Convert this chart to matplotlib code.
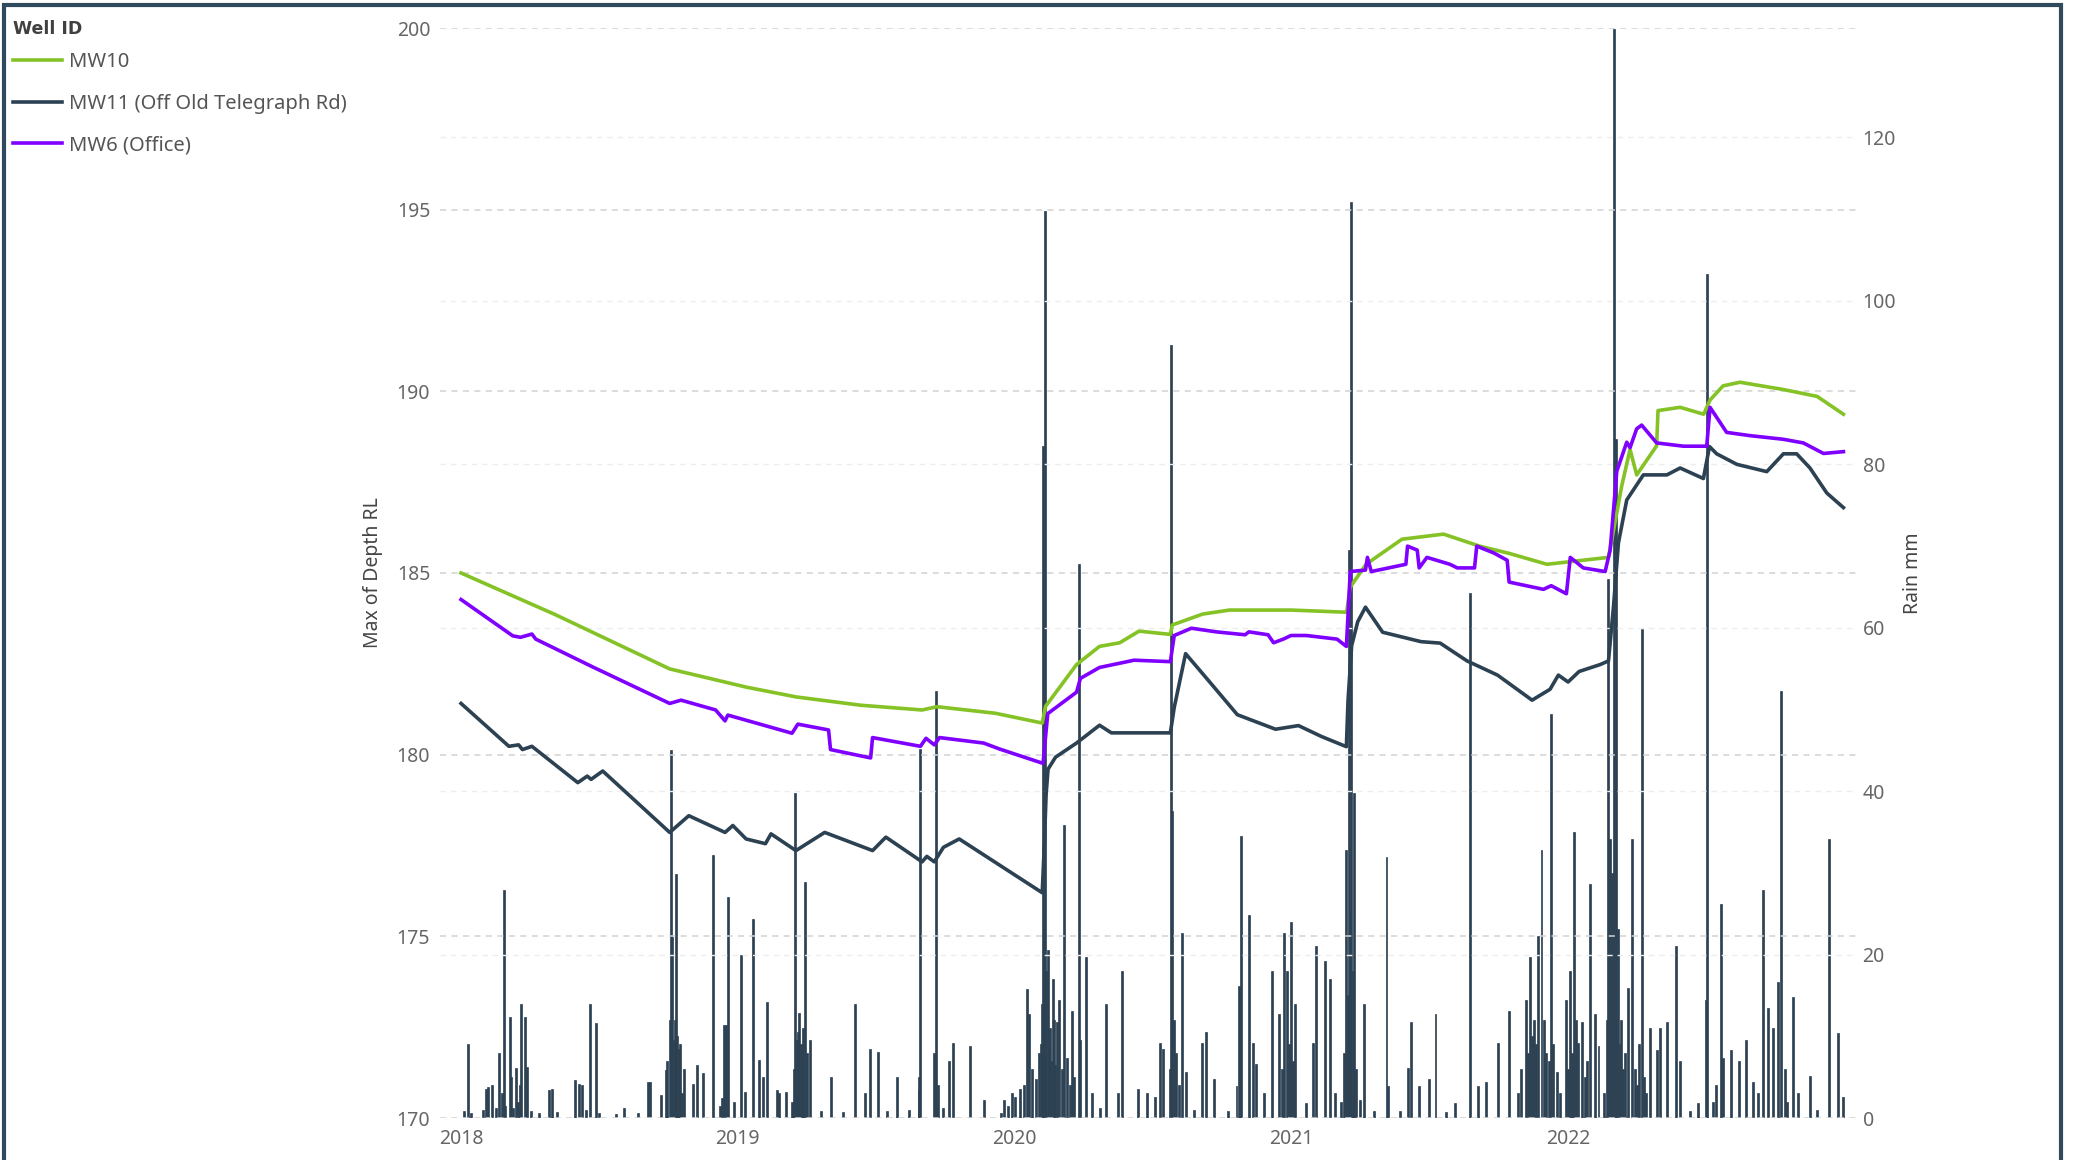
import matplotlib
matplotlib.use("Agg")
import matplotlib.pyplot as plt
from matplotlib.patches import Rectangle

plt.rcParams['font.family'] = ['Noto Sans', 'DejaVu Sans']

# groundwater level (m RL) per well, time in decimal years
mw10_t = [2018.000, 2018.339, 2018.754, 2019.030, 2019.210, 2019.445, 2019.666, 2019.720,
          2019.930, 2020.100, 2020.112, 2020.224, 2020.307, 2020.380, 2020.450, 2020.563,
          2020.570, 2020.680, 2020.777, 2020.998, 2021.200, 2021.212, 2021.270, 2021.400,
          2021.550, 2021.680, 2021.787, 2021.924, 2022.146, 2022.165, 2022.194, 2022.224,
          2022.248, 2022.320, 2022.325, 2022.405, 2022.490, 2022.513, 2022.560, 2022.621,
          2022.778, 2022.900, 2022.995]
mw10_rl = [185.00, 183.86, 182.36, 181.86, 181.59, 181.36, 181.23, 181.32,
           181.14, 180.87, 181.33, 182.48, 182.98, 183.08, 183.40, 183.31,
           183.57, 183.87, 183.98, 183.98, 183.92, 184.60, 185.24, 185.93,
           186.07, 185.74, 185.54, 185.24, 185.43, 186.20, 187.40, 188.40,
           187.70, 188.50, 189.47, 189.56, 189.37, 189.76, 190.15, 190.25,
           190.05, 189.86, 189.37]

mw11_t = [2018.000, 2018.173, 2018.208, 2018.222, 2018.256, 2018.422, 2018.456, 2018.470,
          2018.512, 2018.754, 2018.823, 2018.954, 2018.982, 2019.030, 2019.100, 2019.120,
          2019.210, 2019.314, 2019.487, 2019.535, 2019.666, 2019.683, 2019.710, 2019.743,
          2019.800, 2020.100, 2020.108, 2020.114, 2020.121, 2020.148, 2020.224, 2020.307,
          2020.350, 2020.563, 2020.577, 2020.618, 2020.694, 2020.805, 2020.943, 2021.026,
          2021.109, 2021.199, 2021.205, 2021.218, 2021.240, 2021.268, 2021.330, 2021.469,
          2021.538, 2021.635, 2021.745, 2021.870, 2021.935, 2021.965, 2022.000, 2022.040,
          2022.116, 2022.146, 2022.164, 2022.182, 2022.212, 2022.272, 2022.357, 2022.405,
          2022.489, 2022.511, 2022.537, 2022.610, 2022.718, 2022.778, 2022.826, 2022.874,
          2022.935, 2022.995]
mw11_rl = [181.41, 180.23, 180.27, 180.14, 180.23, 179.23, 179.41, 179.32,
           179.55, 177.86, 178.32, 177.86, 178.05, 177.68, 177.55, 177.82,
           177.36, 177.86, 177.36, 177.73, 177.05, 177.20, 177.05, 177.45,
           177.68, 176.20, 177.60, 178.90, 179.60, 179.93, 180.32, 180.81,
           180.60, 180.60, 181.30, 182.78, 182.10, 181.10, 180.70, 180.80,
           180.50, 180.22, 181.50, 183.00, 183.66, 184.06, 183.37, 183.11,
           183.07, 182.58, 182.19, 181.50, 181.80, 182.19, 182.00, 182.29,
           182.48, 182.58, 184.06, 185.83, 187.01, 187.70, 187.70, 187.89,
           187.60, 188.48, 188.28, 187.99, 187.79, 188.28, 188.28, 187.89,
           187.20, 186.80]

mw6_t = [2018.000, 2018.187, 2018.215, 2018.256, 2018.270, 2018.477, 2018.754, 2018.795,
         2018.920, 2018.954, 2018.964, 2019.196, 2019.217, 2019.328, 2019.335, 2019.480,
         2019.487, 2019.660, 2019.680, 2019.710, 2019.729, 2019.888, 2019.948, 2020.103,
         2020.120, 2020.224, 2020.238, 2020.307, 2020.432, 2020.563, 2020.577, 2020.639,
         2020.729, 2020.833, 2020.847, 2020.916, 2020.936, 2020.971, 2020.999, 2021.054,
         2021.165, 2021.199, 2021.213, 2021.268, 2021.275, 2021.289, 2021.414, 2021.420,
         2021.455, 2021.462, 2021.490, 2021.573, 2021.600, 2021.662, 2021.670, 2021.732,
         2021.780, 2021.787, 2021.911, 2021.939, 2021.994, 2022.008, 2022.055, 2022.134,
         2022.152, 2022.176, 2022.212, 2022.224, 2022.248, 2022.266, 2022.320, 2022.417,
         2022.501, 2022.513, 2022.573, 2022.658, 2022.778, 2022.850, 2022.923, 2022.995]
mw6_rl = [184.27, 183.27, 183.23, 183.32, 183.18, 182.41, 181.41, 181.50,
          181.23, 180.93, 181.09, 180.59, 180.84, 180.68, 180.14, 179.91,
          180.47, 180.23, 180.45, 180.27, 180.47, 180.32, 180.15, 179.76,
          181.13, 181.72, 182.10, 182.40, 182.60, 182.56, 183.28, 183.48,
          183.38, 183.30, 183.38, 183.30, 183.08, 183.18, 183.28, 183.28,
          183.18, 182.98, 185.04, 185.08, 185.43, 185.04, 185.24, 185.74,
          185.63, 185.14, 185.43, 185.24, 185.14, 185.14, 185.74, 185.55,
          185.35, 184.75, 184.55, 184.65, 184.43, 185.43, 185.14, 185.04,
          185.63, 187.80, 188.60, 188.45, 188.97, 189.07, 188.58, 188.49,
          188.49, 189.56, 188.87, 188.78, 188.68, 188.58, 188.29, 188.34]

# daily rainfall (mm)
rain_t = [2018.010, 2018.024, 2018.035, 2018.080, 2018.090, 2018.097, 2018.111, 2018.125,
          2018.138, 2018.154, 2018.160, 2018.176, 2018.188, 2018.197, 2018.205, 2018.217,
          2018.231, 2018.240, 2018.252, 2018.280, 2018.318, 2018.328, 2018.345, 2018.411,
          2018.425, 2018.438, 2018.450, 2018.466, 2018.488, 2018.500, 2018.560, 2018.588,
          2018.640, 2018.674, 2018.682, 2018.723, 2018.740, 2018.754, 2018.760, 2018.764,
          2018.768, 2018.773, 2018.778, 2018.782, 2018.788, 2018.792, 2018.800, 2018.837,
          2018.851, 2018.873, 2018.909, 2018.935, 2018.950, 2018.957, 2018.966, 2018.985,
          2019.012, 2019.026, 2019.055, 2019.076, 2019.090, 2019.106, 2019.141, 2019.148,
          2019.175, 2019.195, 2019.206, 2019.213, 2019.218, 2019.221, 2019.228, 2019.236,
          2019.242, 2019.250, 2019.261, 2019.300, 2019.337, 2019.380, 2019.424, 2019.459,
          2019.476, 2019.508, 2019.540, 2019.574, 2019.620, 2019.653, 2019.660, 2019.715,
          2019.740, 2019.763, 2019.777, 2019.839, 2019.891, 2019.950, 2019.962, 2019.975,
          2019.990, 2020.003, 2020.019, 2020.033, 2020.044, 2020.051, 2020.062, 2020.079,
          2020.090, 2020.103, 2020.111, 2020.121, 2020.128, 2020.139, 2020.147, 2020.155,
          2020.162, 2020.179, 2020.190, 2020.206, 2020.234, 2020.238, 2020.257, 2020.280,
          2020.310, 2020.332, 2020.374, 2020.390, 2020.445, 2020.480, 2020.508, 2020.525,
          2020.535, 2020.567, 2020.570, 2020.606, 2020.618, 2020.650, 2020.678, 2020.692,
          2020.720, 2020.770, 2020.802, 2020.812, 2020.819, 2020.847, 2020.861, 2020.874,
          2020.902, 2020.930, 2020.957, 2020.974, 2020.985, 2020.998, 2021.012, 2021.054,
          2021.079, 2021.090, 2021.120, 2021.139, 2021.157, 2021.180, 2021.199, 2021.209,
          2021.217, 2021.227, 2021.248, 2021.264, 2021.300, 2021.344, 2021.351, 2021.393,
          2021.421, 2021.434, 2021.462, 2021.496, 2021.521, 2021.560, 2021.593, 2021.646,
          2021.676, 2021.704, 2021.746, 2021.787, 2021.820, 2021.849, 2021.863, 2021.877,
          2021.890, 2021.904, 2021.920, 2021.939, 2021.959, 2021.970, 2021.991, 2022.008,
          2022.022, 2022.037, 2022.049, 2022.080, 2022.098, 2022.110, 2022.130, 2022.146,
          2022.152, 2022.167, 2022.173, 2022.181, 2022.200, 2022.217, 2022.230, 2022.250,
          2022.266, 2022.280, 2022.296, 2022.321, 2022.333, 2022.357, 2022.390, 2022.405,
          2022.440, 2022.470, 2022.500, 2022.503, 2022.525, 2022.551, 2022.560, 2022.590,
          2022.618, 2022.642, 2022.669, 2022.687, 2022.706, 2022.723, 2022.741, 2022.759,
          2022.769, 2022.790, 2022.814, 2022.874, 2022.900, 2022.944, 2022.976, 2022.994,
          2020.095, 2020.099, 2020.107, 2020.115, 2020.125, 2020.133, 2020.143, 2020.170,
          2020.200, 2020.215, 2020.560, 2020.575, 2020.585, 2020.595, 2020.965, 2020.992,
          2021.005, 2021.190, 2021.205, 2021.213, 2021.222, 2021.235, 2021.830, 2021.856,
          2021.870, 2021.883, 2021.912, 2021.930, 2021.946, 2022.000, 2022.015, 2022.030,
          2022.062, 2022.070, 2022.140, 2022.160, 2022.186, 2022.192, 2022.206, 2022.242,
          2022.258, 2022.275, 2022.533, 2022.783, 2022.832, 2019.656, 2019.708, 2019.722,
          2018.148, 2018.182, 2018.212, 2018.745, 2018.805, 2018.942, 2019.202, 2019.232]
rain_mm = [0.8, 9.1, 0.6, 1.0, 3.6, 3.8, 4.0, 1.2,
           7.9, 27.9, 1.5, 12.4, 1.2, 6.1, 2.0, 14.0,
           12.4, 6.3, 0.8, 0.6, 3.4, 3.5, 0.7, 4.6,
           4.2, 4.0, 1.0, 14.0, 11.6, 0.6, 0.5, 1.2,
           0.6, 4.4, 4.4, 2.8, 5.9, 12.0, 45.0, 22.2,
           9.5, 12.0, 29.9, 10.0, 8.5, 9.0, 3.0, 4.2,
           6.5, 5.5, 32.2, 1.5, 11.4, 11.4, 27.1, 2.0,
           19.9, 3.2, 24.4, 7.1, 5.0, 14.2, 3.4, 3.0,
           3.2, 2.0, 39.8, 9.5, 10.5, 12.8, 9.0, 11.0,
           28.9, 8.0, 9.5, 0.8, 5.0, 0.7, 14.0, 3.0,
           8.5, 8.1, 0.9, 5.0, 1.0, 3.4, 45.2, 52.2,
           1.2, 7.0, 9.2, 8.8, 2.2, 0.6, 2.2, 1.5,
           3.0, 2.6, 3.5, 4.0, 15.8, 12.7, 6.0, 4.8,
           8.0, 82.2, 111.0, 20.6, 11.0, 17.0, 6.5, 11.8,
           14.4, 35.9, 7.4, 13.1, 67.8, 9.6, 19.7, 3.0,
           1.2, 14.0, 3.0, 18.0, 3.5, 3.0, 2.6, 9.2,
           8.4, 94.6, 37.6, 22.7, 5.6, 1.0, 9.2, 10.5,
           4.8, 0.8, 3.9, 16.2, 34.5, 24.9, 9.2, 6.6,
           3.0, 18.0, 12.7, 22.7, 18.0, 24.0, 14.0, 1.8,
           9.2, 21.0, 19.2, 17.0, 3.0, 2.0, 32.8, 69.5,
           112.1, 39.8, 2.2, 14.0, 0.8, 32.0, 3.9, 0.9,
           6.1, 11.8, 3.9, 4.8, 12.7, 0.7, 1.8, 64.3,
           3.9, 4.4, 9.2, 13.1, 3.0, 14.4, 19.7, 12.0,
           22.3, 32.8, 8.0, 49.4, 5.6, 3.0, 14.4, 18.0,
           35.0, 9.2, 11.8, 28.6, 12.7, 8.8, 3.0, 66.0,
           34.1, 133.3, 83.1, 23.1, 6.0, 15.9, 34.1, 4.0,
           59.9, 3.0, 11.0, 8.3, 11.0, 11.8, 21.0, 7.0,
           0.8, 1.8, 14.4, 103.3, 2.0, 26.2, 7.4, 8.3,
           7.0, 9.6, 4.4, 3.0, 27.9, 13.5, 11.0, 16.6,
           52.2, 2.0, 14.8, 5.2, 1.0, 34.1, 10.4, 2.6,
           9.0, 14.0, 25.0, 18.0, 9.0, 7.0, 12.0, 6.0,
           4.0, 5.0, 6.0, 12.0, 8.0, 4.0, 6.0, 9.0,
           7.0, 8.0, 15.0, 25.0, 18.0, 6.0, 6.0, 8.0,
           10.0, 9.0, 12.0, 7.0, 9.0, 6.0, 8.0, 12.0,
           5.0, 7.0, 12.0, 30.0, 9.0, 12.0, 8.0, 6.0,
           9.0, 5.0, 4.0, 6.0, 3.0, 5.0, 8.0, 4.0,
           3.0, 5.0, 4.0, 7.0, 6.0, 2.5, 6.0, 7.0]

years = [2018, 2019, 2020, 2021, 2022]
rl_ticks = [170, 175, 180, 185, 190, 195, 200]
rain_ticks = [0, 20, 40, 60, 80, 100, 120]

green = '#84c226'
dark = '#2c4152'
purple = '#8000ff'
grey_txt = '#666666'

fig = plt.figure(figsize=(20.73, 11.6), dpi=100)
ax = fig.add_axes([440 / 2073, 1 - 1118 / 1160, 1417 / 2073, 1090 / 1160])
ax_rain = ax.twinx()

# rainfall columns sit behind the well lines
ax_rain.bar(rain_t, rain_mm, width=2.6 / 365, color=dark, edgecolor=dark, linewidth=0.5)
ax.set_zorder(ax_rain.get_zorder() + 1)
ax.patch.set_visible(False)

l10, = ax.plot(mw10_t, mw10_rl, color=green, lw=2.6, label='MW10')
l11, = ax.plot(mw11_t, mw11_rl, color=dark, lw=2.6, label='MW11 (Off Old Telegraph Rd)')
l6, = ax.plot(mw6_t, mw6_rl, color=purple, lw=2.6, label='MW6 (Office)')

ax.set_xlim(2017.924, 2023.044)
ax.set_ylim(170, 200)
ax_rain.set_ylim(0, 133.4)

ax.set_xticks(years)
ax.set_xticklabels([str(y) for y in years])
ax.set_yticks(rl_ticks)
ax_rain.set_yticks(rain_ticks)

ax.grid(axis='y', color='#d2d2d2', linestyle=(0, (4, 3.5)), linewidth=1.1)
ax_rain.grid(axis='y', color='#ededed', linestyle=(0, (4, 3.5)), linewidth=1.0)
ax.grid(axis='x', visible=False)

for a in (ax, ax_rain):
    for s in a.spines.values():
        s.set_visible(False)
    a.tick_params(length=0, labelsize=14, labelcolor=grey_txt)
ax.tick_params(axis='y', pad=7)
ax.tick_params(axis='x', pad=8)
ax_rain.tick_params(axis='y', pad=4)

fig.text(373 / 2073, 1 - 573 / 1160, 'Max of Depth RL', rotation=90, ha='center', va='center',
         fontsize=14, color='#444444')
fig.text(1913 / 2073, 1 - 573 / 1160, 'Rain mm', rotation=90, ha='center', va='center',
         fontsize=14, color='#444444')

# legend block in the top-left corner
fig.text(13 / 2073, 1 - 29 / 1160, 'Well ID', ha='left', va='center', fontsize=12.5,
         fontweight='bold', family='DejaVu Sans', color='#404040')
leg = fig.legend(handles=[l10, l11, l6], loc='upper left', bbox_to_anchor=(7 / 2073, 1 - 46 / 1160),
                 frameon=False, fontsize=14.5, borderaxespad=0, borderpad=0.3,
                 handlelength=2.45, handletextpad=0.35, labelspacing=1.08)
for txt in leg.get_texts():
    txt.set_color('#555555')

# dark frame round the report visual
fig.add_artist(Rectangle((4 / 2073, -0.05), (2061 - 4) / 2073, 1.05 - 5 / 1160,
                         transform=fig.transFigure, fill=False, edgecolor='#2e4a5c', linewidth=3))

fig.savefig('out.png', dpi=100)
